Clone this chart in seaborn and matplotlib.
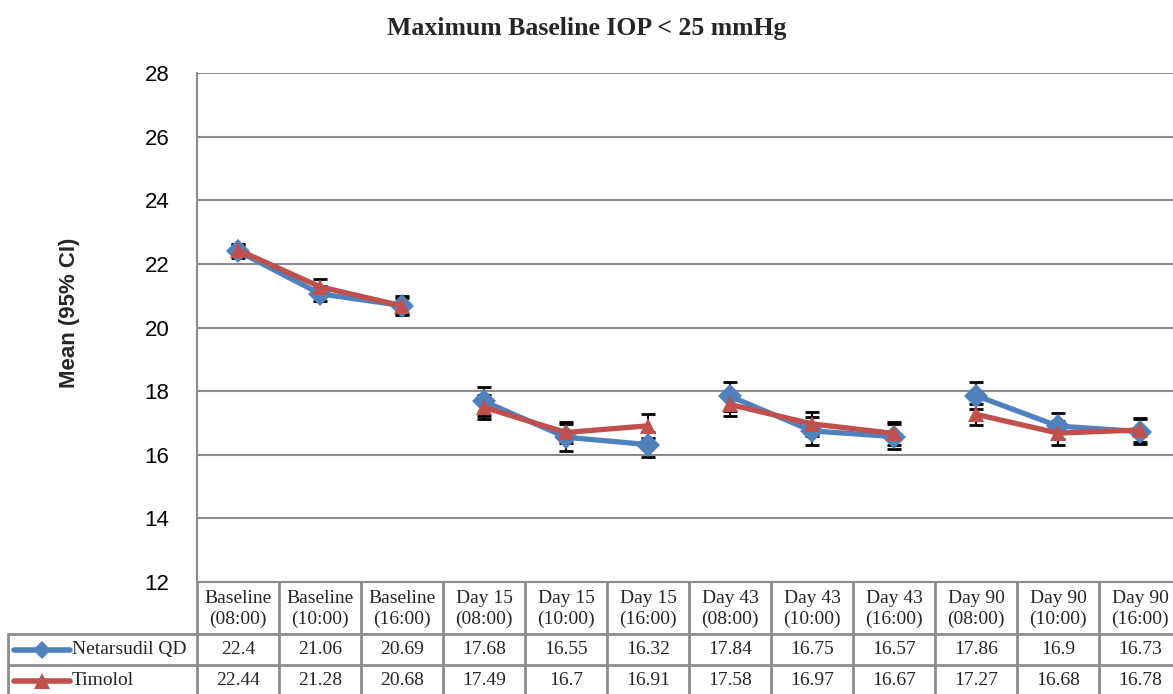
import numpy as np
import pandas as pd
import seaborn as sns
import matplotlib
matplotlib.use("Agg")
import matplotlib.pyplot as plt
from matplotlib.lines import Line2D
from matplotlib.transforms import blended_transform_factory

# ---------------- data ----------------
categories = ["Baseline\n(08:00)", "Baseline\n(10:00)", "Baseline\n(16:00)",
              "Day 15\n(08:00)", "Day 15\n(10:00)", "Day 15\n(16:00)",
              "Day 43\n(08:00)", "Day 43\n(10:00)", "Day 43\n(16:00)",
              "Day 90\n(08:00)", "Day 90\n(10:00)", "Day 90\n(16:00)"]
visits = ["Baseline", "Baseline", "Baseline", "Day 15", "Day 15", "Day 15",
          "Day 43", "Day 43", "Day 43", "Day 90", "Day 90", "Day 90"]
series_names = ["Netarsudil QD", "Timolol"]
netarsudil = [22.4, 21.06, 20.69, 17.68, 16.55, 16.32, 17.84, 16.75, 16.57, 17.86, 16.9, 16.73]
timolol = [22.44, 21.28, 20.68, 17.49, 16.7, 16.91, 17.58, 16.97, 16.67, 17.27, 16.68, 16.78]
netarsudil_ci = [0.2, 0.23, 0.25, 0.46, 0.43, 0.39, 0.45, 0.44, 0.39, 0.42, 0.41, 0.39]
timolol_ci = [0.2, 0.25, 0.3, 0.38, 0.33, 0.37, 0.36, 0.38, 0.36, 0.33, 0.37, 0.38]
yticks = [12, 14, 16, 18, 20, 22, 24, 26, 28]
title = "Maximum Baseline IOP < 25 mmHg"
ylabel = "Mean (95% CI)"

colors = {"Netarsudil QD": "#4F81BD", "Timolol": "#C0504D"}
markers = {"Netarsudil QD": "D", "Timolol": "^"}

# ---------------- figure ----------------
sns.set_theme(style="white")
plt.rcParams['font.family'] = ['Liberation Sans', 'DejaVu Sans']

W, H = 1173, 694
fig = plt.figure(figsize=(W / 100, H / 100), dpi=100)
fig.patch.set_facecolor("white")

# plot area in pixels: left 197, top 73, bottom 582, 12 columns of 82 px
ax_left, ax_top, ax_bot, col_w = 197, 73, 582, 82
ax = fig.add_axes([ax_left / W, 1 - ax_bot / H, col_w * len(categories) / W, (ax_bot - ax_top) / H])

n = len(categories)
x = np.arange(n)
df = pd.DataFrame({
    "x": np.concatenate([x, x]),
    "value": netarsudil + timolol,
    "series": [series_names[0]] * n + [series_names[1]] * n,
    "visit": visits + visits,
})

gridc = "#8C8C8C"
ax.set_ylim(yticks[0], yticks[-1])
ax.set_xlim(-0.5, n - 0.5)
ax.set_yticks(yticks)
ax.yaxis.grid(True, color=gridc, lw=1.5)
ax.set_axisbelow(True)
ax.set_xticks([])
for s in ["top", "right"]:
    ax.spines[s].set_visible(False)
for s in ["left", "bottom"]:
    ax.spines[s].set_color(gridc)
    ax.spines[s].set_linewidth(1.5)
ax.tick_params(axis="y", length=0, pad=20, labelsize=16, labelcolor="black")

# error bars
for vals, ci in [(netarsudil, netarsudil_ci), (timolol, timolol_ci)]:
    ax.errorbar(x, vals, yerr=ci, fmt="none", ecolor="black", elinewidth=1.5,
                capsize=5, capthick=2, zorder=2)

sns.lineplot(data=df, x="x", y="value", hue="series", style="series", units="visit",
             estimator=None, palette=colors, markers=markers, dashes=False, lw=3.8,
             markersize=12, markeredgewidth=0, legend=False, ax=ax, zorder=3)
ax.set_xlabel("")
ax.set_ylabel("")

# title and y label
fig.text(0.5, 1 - 28 / H, title, ha="center", va="center",
         fontsize=18.5, fontweight="bold", family=["Liberation Serif", "DejaVu Serif"])
fig.text(70 / W, 1 - 313 / H, ylabel, rotation=90, ha="center", va="center",
         fontsize=16, fontweight="bold")

# ---------------- data table ----------------
tr = blended_transform_factory(ax.transData, fig.transFigure)
def fy(py):
    return 1 - py / H

row1_top, row2_top, table_bot = 634, 665, 700
serif = ["Liberation Serif", "DejaVu Serif"]
tcol = "#8C8C8C"
tfs = 14

# vertical lines between columns
for i in range(n + 1):
    fig.add_artist(Line2D([i - 0.5, i - 0.5], [fy(ax_bot), fy(table_bot)], transform=tr,
                          color=tcol, lw=2))
# horizontal lines
legend_left = 8
for py in [row1_top, row2_top]:
    fig.add_artist(Line2D([legend_left / W, 1], [fy(py), fy(py)], transform=fig.transFigure,
                          color=tcol, lw=2))
fig.add_artist(Line2D([legend_left / W, legend_left / W], [fy(row1_top), fy(table_bot)],
                      transform=fig.transFigure, color=tcol, lw=2))

# header text
for i, c in enumerate(categories):
    fig.text(i, fy((ax_bot + row1_top) / 2 + 1), c, transform=tr, ha="center", va="center",
             fontsize=tfs, family=serif, linespacing=1.25)

# rows
rows = [(series_names[0], netarsudil, row1_top, row2_top),
        (series_names[1], timolol, row2_top, table_bot - 4)]
for name, vals, top, bot in rows:
    yc = fy((top + bot) / 2)
    for i, v in enumerate(vals):
        fig.text(i, yc, f"{v:g}", transform=tr, ha="center", va="center",
                 fontsize=tfs, family=serif)
    fig.add_artist(Line2D([14 / W, 70 / W], [yc, yc], transform=fig.transFigure,
                          color=colors[name], lw=4))
    fig.add_artist(Line2D([42 / W], [yc], transform=fig.transFigure, color=colors[name],
                          marker=markers[name], markersize=9 if markers[name] == "D" else 11,
                          markeredgewidth=0, lw=0))
    fig.text(72 / W, yc, name, ha="left", va="center", fontsize=tfs, family=serif)

fig.savefig("out.png", dpi=100)
